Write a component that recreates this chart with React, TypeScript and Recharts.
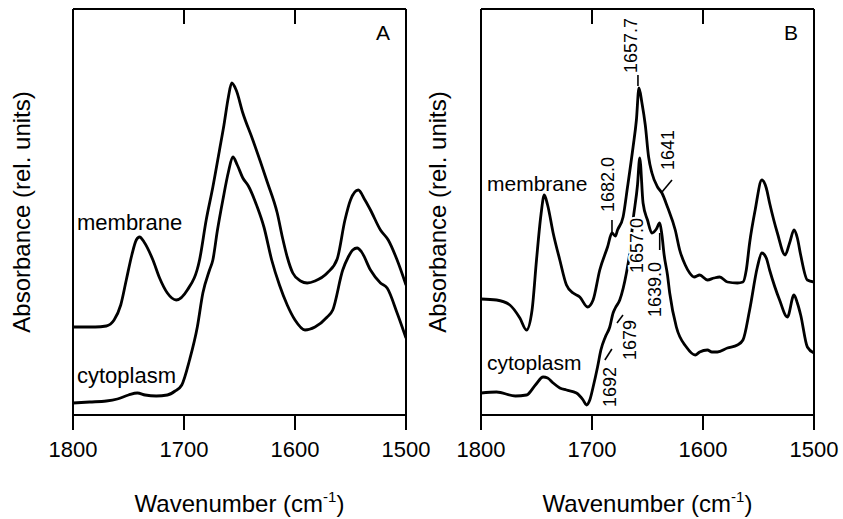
import React from "react";
import { LineChart, Line, XAxis, YAxis, ReferenceDot } from "recharts";

type Pair = [number, number];

// x: wavenumber (cm-1), y: absorbance in relative units (curves offset for stacking)
const wavenumberTicks = [1800, 1700, 1600, 1500];
const frameTopTicks = [1700, 1600];
const WN_DOMAIN: [number, number] = [1500, 1800];

// panel A: absorbance spectra
const membraneA: Pair[] = [
  [1800, 88], [1780, 88], [1770, 89], [1763, 95], [1757, 110], [1752, 135], [1747, 160],
  [1743, 175], [1740, 178], [1736, 173], [1728, 155], [1722, 137], [1715, 122], [1707, 115],
  [1697, 125], [1686, 155], [1680, 195], [1674, 228], [1668, 265], [1664, 290], [1660, 318],
  [1657, 332], [1653, 325], [1647, 302], [1638, 275], [1625, 233], [1616, 202], [1611, 176],
  [1607, 158], [1602, 142], [1595, 134], [1589, 132], [1582, 134], [1571, 142], [1562, 156],
  [1555, 195], [1550, 215], [1543, 225], [1537, 215], [1532, 205], [1523, 185], [1516, 175],
  [1508, 155], [1500, 130],
];

const cytoplasmA: Pair[] = [
  [1800, 12], [1785, 13], [1770, 14], [1760, 16], [1750, 20], [1742, 22], [1735, 20],
  [1725, 19], [1715, 20], [1708, 24], [1702, 30], [1695, 55], [1688, 88], [1683, 122],
  [1677, 145], [1674, 155], [1670, 184], [1665, 215], [1660, 243], [1656, 258], [1652, 250],
  [1647, 237], [1642, 229], [1634, 208], [1628, 188], [1621, 155], [1614, 130], [1607, 110],
  [1600, 95], [1591, 85], [1582, 88], [1571, 98], [1566, 105], [1557, 145], [1552, 158],
  [1548, 165], [1544, 167], [1540, 163], [1532, 145], [1523, 132], [1517, 127], [1508, 102],
  [1500, 77],
];

// panel B: resolution-enhanced spectra
const membraneB: Pair[] = [
  [1800, 116], [1786, 115], [1774, 110], [1765, 97], [1759, 85], [1754, 105], [1750, 155],
  [1746, 200], [1743, 220], [1740, 210], [1735, 182], [1729, 155], [1723, 130], [1717, 122],
  [1711, 118], [1704, 108], [1699, 115], [1693, 145], [1686, 168], [1682, 182], [1679, 179],
  [1677, 185], [1672, 198], [1668, 228], [1663, 268], [1660, 295], [1657.7, 327], [1655, 312],
  [1652, 290], [1649, 258], [1646, 242], [1641, 228], [1637, 222], [1632, 208], [1625, 185],
  [1621, 165], [1616, 150], [1612, 142], [1608, 138], [1603, 140], [1596, 135], [1590, 137],
  [1585, 138], [1578, 133], [1569, 132], [1564, 133], [1561, 145], [1558, 172], [1553, 205],
  [1547, 235], [1543, 227], [1540, 212], [1533, 182], [1526, 160], [1522, 172], [1518, 185],
  [1515, 177], [1512, 160], [1506, 135], [1500, 133],
];

const cytoplasmB: Pair[] = [
  [1800, 22], [1786, 23], [1769, 19], [1759, 20], [1751, 30], [1744, 38], [1740, 37],
  [1735, 32], [1729, 27], [1723, 25], [1714, 22], [1708, 15], [1705, 10], [1702, 15],
  [1699, 28], [1695, 48], [1692, 65], [1688, 78], [1684, 88], [1681, 102], [1679, 107],
  [1675, 115], [1669, 142], [1666, 162], [1663, 195], [1659, 230], [1657, 257], [1654, 212],
  [1650, 195], [1646, 182], [1642, 186], [1639, 192], [1637, 180], [1635, 160], [1632, 140],
  [1630, 122], [1624, 88], [1615, 68], [1607, 60], [1603, 63], [1596, 65], [1592, 63],
  [1587, 63], [1578, 67], [1569, 70], [1564, 75], [1558, 105], [1551, 148], [1547, 162],
  [1543, 157], [1540, 145], [1531, 115], [1524, 98], [1518, 120], [1515, 112], [1512, 100],
  [1506, 68], [1500, 62],
];

const toRows = (s: Pair[]) => s.map(([wn, abs]) => ({ wn, abs }));
const absAt = (s: Pair[], wn: number) => (s.find((p) => p[0] === wn) as Pair)[1];

const FONT = "'Liberation Sans', Arial, Helvetica, sans-serif";
const Y_MAX = 406; // one unit per pixel of plot height
const PLOT_TOP = 9;
const CHART_H = 519;
const TOP_TICK_LEN = 15;
const AXIS = { stroke: "#000", strokeWidth: 2 };

type Note = {
  text: string;
  series: Pair[];
  wn: number;
  tx: number; // text foot, relative to the marked point
  ty: number;
  leader?: [number, number, number, number];
  halo?: boolean;
};

// band positions marked in panel B
const notesB: Note[] = [
  { text: "1657.7", series: membraneB, wn: 1657.7, tx: -8, ty: -15, leader: [-1, -2, -1, -13] },
  { text: "1682.0", series: membraneB, wn: 1682, tx: -4, ty: -21, leader: [0, 0, 0, -13] },
  { text: "1641", series: membraneB, wn: 1641, tx: 10.5, ty: -17, leader: [4.5, 5, 14.5, -7] },
  { text: "1657.0", series: cytoplasmB, wn: 1657, tx: -3, ty: 115, halo: true },
  { text: "1639.0", series: cytoplasmB, wn: 1639, tx: -5, ty: 94, leader: [0, 10, 0, 27], halo: true },
  { text: "1679", series: cytoplasmB, wn: 1679, tx: 15, ty: 52, leader: [1.7, 15, 7.7, 7] },
  { text: "1692", series: cytoplasmB, wn: 1692, tx: 9, ty: 57, leader: [4, 10, 11, -1] },
];

function NoteMark({ cx, cy, note }: any) {
  const x = cx + note.tx;
  const y = cy + note.ty;
  const l = note.leader;
  return (
    <g>
      {l && (
        <line x1={cx + l[0]} y1={cy + l[1]} x2={cx + l[2]} y2={cy + l[3]} stroke="#000" strokeWidth={1.6} />
      )}
      <text
        x={x}
        y={y}
        transform={`rotate(-90 ${x} ${y})`}
        textAnchor="start"
        dominantBaseline="central"
        fontSize={18}
        fontFamily={FONT}
        fill="#000"
        stroke={note.halo ? "#fff" : "none"}
        strokeWidth={note.halo ? 4 : 0}
        paintOrder="stroke"
      >
        {note.text}
      </text>
    </g>
  );
}

function XTitle({ at }: any) {
  return (
    <text x={at} y={512} textAnchor="middle" fontFamily={FONT} fontSize={24} fill="#000">
      Wavenumber (cm
      <tspan dy={-10} fontSize={15}>
        -1
      </tspan>
      <tspan dy={10}>)</tspan>
    </text>
  );
}

function YTitle({ at }: any) {
  const y = PLOT_TOP + Y_MAX / 2;
  return (
    <text
      x={at}
      y={y}
      transform={`rotate(-90 ${at} ${y})`}
      textAnchor="middle"
      dominantBaseline="central"
      fontFamily={FONT}
      fontSize={24}
      fill="#000"
    >
      Absorbance (rel. units)
    </text>
  );
}

// panel letter, curve names and the inward ticks of the top frame
function PanelText({ letter, plotX, plotW, nameX, nameSize, upperY, lowerY }: any) {
  const style = { fontFamily: FONT, fill: "#000" };
  const [lo, hi] = WN_DOMAIN;
  return (
    <g>
      {frameTopTicks.map((t) => {
        const x = plotX + ((hi - t) / (hi - lo)) * plotW;
        return (
          <line key={t} x1={x} y1={PLOT_TOP} x2={x} y2={PLOT_TOP + TOP_TICK_LEN} stroke="#000" strokeWidth={2} />
        );
      })}
      <text x={plotX + plotW - 23} y={40} textAnchor="middle" fontSize={21} {...style}>
        {letter}
      </text>
      <text x={nameX} y={upperY} fontSize={nameSize} {...style}>
        membrane
      </text>
      <text x={nameX} y={lowerY} fontSize={nameSize} {...style}>
        cytoplasm
      </text>
    </g>
  );
}

function Panel(props: any) {
  const { left, width, axisW, plotW, titleX, letter, nameX, nameSize, upperY, lowerY, upper, lower, notes } =
    props;
  const rightM = width - axisW - 1 - plotW;
  const xCommon = {
    type: "number" as const,
    dataKey: "wn",
    domain: WN_DOMAIN,
    reversed: true,
    allowDataOverflow: true,
    interval: 0 as const,
  };
  return (
    <div style={{ position: "absolute", left, top: 0 }}>
      <LineChart width={width} height={CHART_H} margin={{ top: PLOT_TOP - 1, right: rightM, bottom: 0, left: 0 }}>
        <XAxis
          xAxisId="b"
          {...xCommon}
          ticks={wavenumberTicks}
          height={CHART_H - PLOT_TOP - Y_MAX}
          tickSize={15}
          tickMargin={11}
          tick={{ fill: "#000", fontSize: 22, fontFamily: FONT }}
          axisLine={AXIS}
          tickLine={AXIS}
          label={<XTitle at={axisW + plotW / 2} />}
        />
        <XAxis
          xAxisId="t"
          orientation="top"
          {...xCommon}
          height={1}
          tick={false}
          tickLine={false}
          axisLine={AXIS}
          label={
            <PanelText
              letter={letter}
              plotX={axisW}
              plotW={plotW}
              nameX={nameX}
              nameSize={nameSize}
              upperY={upperY}
              lowerY={lowerY}
            />
          }
        />
        <YAxis
          yAxisId="l"
          type="number"
          domain={[0, Y_MAX]}
          allowDataOverflow
          width={axisW}
          tick={false}
          tickLine={false}
          axisLine={AXIS}
          label={<YTitle at={titleX} />}
        />
        <YAxis
          yAxisId="r"
          orientation="right"
          type="number"
          domain={[0, Y_MAX]}
          width={1}
          tick={false}
          tickLine={false}
          axisLine={AXIS}
        />
        {[upper, lower].map((s: Pair[], i: number) => (
          <Line
            key={i}
            xAxisId="b"
            yAxisId="l"
            data={toRows(s)}
            dataKey="abs"
            type="monotone"
            stroke="#000"
            strokeWidth={2.8}
            dot={false}
            activeDot={false}
            isAnimationActive={false}
          />
        ))}
        {notes.map((n: Note) => (
          <ReferenceDot
            key={n.text}
            xAxisId="b"
            yAxisId="l"
            x={n.wn}
            y={absAt(n.series, n.wn)}
            r={0}
            shape={(p: any) => <NoteMark cx={p.cx} cy={p.cy} note={n} />}
          />
        ))}
      </LineChart>
    </div>
  );
}

export default function App() {
  return (
    <div style={{ position: "absolute", left: 0, top: 0, width: 843, height: CHART_H, background: "#fff" }}>
      <Panel
        left={0}
        width={440}
        axisW={73}
        plotW={333}
        titleX={21}
        letter="A"
        nameX={77}
        nameSize={22}
        upperY={230}
        lowerY={383}
        upper={membraneA}
        lower={cytoplasmA}
        notes={[]}
      />
      <Panel
        left={421}
        width={422}
        axisW={60}
        plotW={333}
        titleX={16}
        letter="B"
        nameX={66}
        nameSize={21}
        upperY={191}
        lowerY={370}
        upper={membraneB}
        lower={cytoplasmB}
        notes={notesB}
      />
    </div>
  );
}
